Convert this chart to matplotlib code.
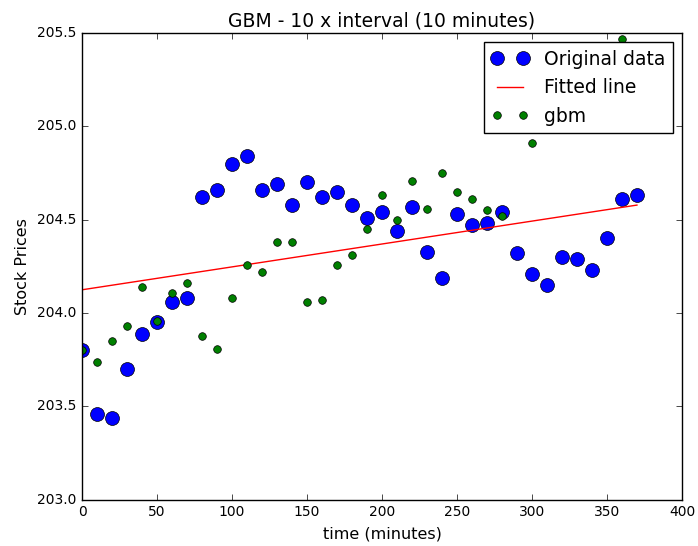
import numpy as np
import matplotlib
matplotlib.use("Agg")
import matplotlib.pyplot as plt

# original stock prices, every 10 minutes
time_min = [0, 10, 20, 30, 40, 50, 60, 70, 80, 90, 100, 110, 120, 130, 140, 150, 160, 170, 180,
            190, 200, 210, 220, 230, 240, 250, 260, 270, 280, 290, 300, 310, 320, 330, 340, 350, 360, 370]
prices = [203.80, 203.46, 203.44, 203.70, 203.89, 203.95, 204.06, 204.08, 204.62, 204.66,
          204.80, 204.84, 204.66, 204.69, 204.58, 204.70, 204.62, 204.65, 204.58, 204.51,
          204.54, 204.44, 204.57, 204.33, 204.19, 204.53, 204.47, 204.48, 204.54, 204.32,
          204.21, 204.15, 204.30, 204.29, 204.23, 204.40, 204.61, 204.63]

# simulated gbm path (only the points inside the visible range)
gbm_time = [0, 10, 20, 30, 40, 50, 60, 70, 80, 90, 100, 110, 120, 130, 140, 150, 160, 170, 180,
            190, 200, 210, 220, 230, 240, 250, 260, 270, 280, 300, 360]
gbm_prices = [203.80, 203.74, 203.85, 203.93, 204.14, 203.96, 204.11, 204.16, 203.88, 203.81,
              204.08, 204.26, 204.22, 204.38, 204.38, 204.06, 204.07, 204.26, 204.31, 204.45,
              204.63, 204.50, 204.71, 204.56, 204.75, 204.65, 204.61, 204.55, 204.52, 204.91,
              205.47]

# fitted line
fit_slope = 0.001226
fit_intercept = 204.125

plt.style.use("classic")
plt.rcParams["font.family"] = ["DejaVu Sans"]

fig = plt.figure(figsize=(6.98, 5.46), dpi=100, facecolor="white")
ax = fig.add_axes([0.1175, 0.0845, 0.8595, 0.855])

t = np.array(time_min)
ax.plot(time_min, prices, "bo", markersize=10, markeredgewidth=0.5, label="Original data")
ax.plot(t, fit_slope * t + fit_intercept, "r", linewidth=1, label="Fitted line")
ax.plot(gbm_time, gbm_prices, "go", markersize=5.5, markeredgewidth=0.5, label="gbm")

ax.set_xlim(0, 400)
ax.set_ylim(203.0, 205.5)
ax.set_xticks(range(0, 401, 50))
ax.set_yticks([203.0, 203.5, 204.0, 204.5, 205.0, 205.5])
ax.ticklabel_format(axis="y", useOffset=False)
ax.tick_params(labelsize=10)
ax.set_xlabel("time (minutes)", fontsize=11.5)
ax.set_ylabel("Stock Prices", fontsize=11.5)
ax.set_title("GBM - 10 x interval (10 minutes)", fontsize=13.5)
ax.legend(loc="upper right", numpoints=2, fontsize=13.5)

fig.savefig("out.png", dpi=100, facecolor="white")
